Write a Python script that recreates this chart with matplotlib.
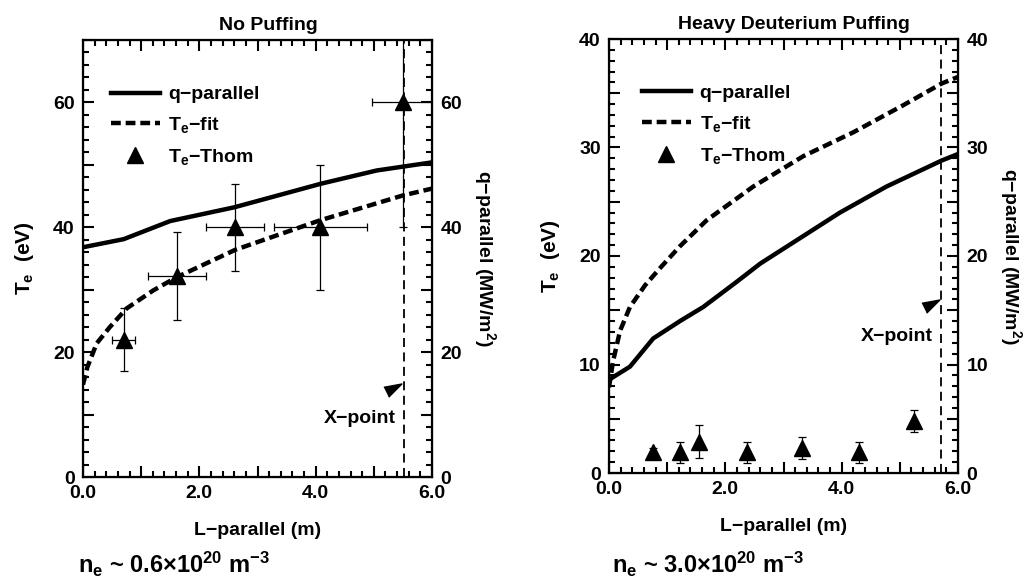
import matplotlib
matplotlib.use('Agg')
import matplotlib.pyplot as plt
from matplotlib.ticker import MultipleLocator, FuncFormatter

plt.rcParams['font.family'] = ['Liberation Sans', 'DejaVu Sans']
plt.rcParams['font.weight'] = 'bold'
plt.rcParams['mathtext.fontset'] = 'custom'
plt.rcParams['mathtext.rm'] = 'Liberation Sans:bold'
plt.rcParams['mathtext.it'] = 'Liberation Sans:bold'
plt.rcParams['mathtext.bf'] = 'Liberation Sans:bold'
plt.rcParams['mathtext.default'] = 'rm'

# --- datos panel izquierdo (sin puffing) ---
q_izq_x = [0.0, 0.7, 1.5, 2.6, 4.1, 5.05, 6.0]
q_izq_y = [36.8, 38.1, 41.0, 43.2, 47.0, 49.1, 50.4]
fit_izq_x = [0.0, 0.075, 0.235, 0.46, 0.75, 1.21, 1.61, 2.62, 4.07, 5.5, 6.0]
fit_izq_y = [14.8, 17.6, 21.4, 24.0, 27.0, 29.9, 32.0, 36.4, 41.1, 45.1, 46.2]
thom_izq_x = [0.7, 1.62, 2.62, 4.08, 5.51]
thom_izq_y = [22.0, 32.2, 40.0, 40.0, 60.0]
thom_izq_yerr = [5.0, 7.0, 7.0, 10.0, 20.0]
thom_izq_xerr = [0.2, 0.5, 0.5, 0.8, 0.55]
xpunto_izq = 5.52

# --- datos panel derecho (puffing fuerte) ---
q_der_x = [0.0, 0.36, 0.76, 1.22, 1.62, 2.19, 2.6, 3.97, 4.77, 5.72, 6.0]
q_der_y = [8.6, 9.8, 12.4, 14.0, 15.3, 17.6, 19.3, 24.0, 26.4, 28.8, 29.4]
fit_der_x = [0.0, 0.07, 0.19, 0.36, 0.62, 0.88, 1.22, 1.68, 2.48, 3.34, 4.2, 5.06, 5.72, 6.0]
fit_der_y = [7.9, 10.3, 13.1, 15.3, 17.3, 18.9, 20.9, 23.3, 26.4, 29.2, 31.4, 33.9, 35.9, 36.5]
thom_der_x = [0.76, 1.22, 1.55, 2.38, 3.32, 4.3, 5.24]
thom_der_y = [1.9, 1.9, 2.9, 1.9, 2.3, 1.9, 4.8]
thom_der_yerr = [0.4, 1.0, 1.5, 1.0, 1.0, 1.0, 1.0]
xpunto_der = 5.71

flecha = [(-7.8, 2.2), (10.6, 5.6), (-2.8, -7.8)]
FS = 14


def formato(cada):
    return FuncFormatter(lambda v, p: '%d' % round(v) if abs(v / cada - round(v / cada)) < 1e-6 else '')


def panel(rect, titulo, ymax, ymayor, ymenor, yetiq, qx, qy, fx, fy, tx, ty, tyerr, txerr,
          xp, flecha_xy, texto_xy, leg_x, ms):
    ax = fig.add_axes(rect)
    ax.plot(qx, qy, color='black', lw=3.2, label='q\u2212parallel')
    ax.plot(fx, fy, color='black', lw=3.2, dashes=(2.2, 1.1), label='T$_e$\u2212fit')
    ax.errorbar(tx, ty, yerr=tyerr, xerr=txerr, fmt='none', ecolor='black',
                elinewidth=0.9, capsize=3, capthick=0.9)
    ax.plot(tx, ty, '^', color='black', ms=ms, label='T$_e$\u2212Thom')
    ax.axvline(xp, color='black', lw=1.3, linestyle=(0, (5, 3)))
    ax.plot([flecha_xy[0]], [flecha_xy[1]], marker=flecha, ms=15, color='black', ls='none')
    ax.text(texto_xy[0], texto_xy[1], 'X\u2212point', ha='right', va='center', fontsize=FS,
            fontweight='bold')

    ax.set_xlim(0, 6)
    ax.set_ylim(0, ymax)
    ax.xaxis.set_major_locator(MultipleLocator(1))
    ax.xaxis.set_minor_locator(MultipleLocator(0.2))
    ax.xaxis.set_major_formatter(FuncFormatter(lambda v, p: '%.1f' % v if round(v) % 2 == 0 else ''))
    ax.yaxis.set_major_locator(MultipleLocator(ymayor))
    ax.yaxis.set_minor_locator(MultipleLocator(ymenor))
    ax.yaxis.set_major_formatter(formato(yetiq))
    ax.tick_params(which='both', direction='in', top=True, right=True, width=1.5,
                   labelsize=FS, pad=6)
    ax.tick_params(which='major', length=8)
    ax.tick_params(which='minor', length=4.5)
    for s in ax.spines.values():
        s.set_linewidth(1.6)

    ax2 = ax.twinx()
    ax2.set_ylim(0, ymax)
    ax2.yaxis.set_major_locator(MultipleLocator(ymayor))
    ax2.yaxis.set_minor_locator(MultipleLocator(ymenor))
    ax2.yaxis.set_major_formatter(formato(yetiq))
    ax2.tick_params(which='both', direction='in', width=1.5, labelsize=FS, pad=6)
    ax2.tick_params(which='major', length=8)
    ax2.tick_params(which='minor', length=4.5)

    ax.set_title(titulo, fontsize=FS, fontweight='bold', x=0.53, pad=7)
    ax.set_xlabel('L\u2212parallel (m)', fontsize=FS, fontweight='bold', labelpad=14)
    ax.set_ylabel('T$_e$  (eV)', fontsize=FS + 1, fontweight='bold', labelpad=12)
    ax2.set_ylabel('q\u2212parallel (MW/m$^2$)', fontsize=FS, fontweight='bold',
                   rotation=270, labelpad=26)

    ax.legend(loc='upper left', bbox_to_anchor=(leg_x, 0.895), frameon=False, fontsize=FS,
              handlelength=2.5, handletextpad=0.45, labelspacing=0.6, borderpad=0,
              borderaxespad=0, numpoints=1)
    return ax


fig = plt.figure(figsize=(10.28, 5.8), dpi=100)

panel([83 / 1028, 103 / 580, 349 / 1028, 437 / 580], 'No Puffing', 70, 10, 2, 20,
      q_izq_x, q_izq_y, fit_izq_x, fit_izq_y, thom_izq_x, thom_izq_y, thom_izq_yerr, thom_izq_xerr,
      xpunto_izq, (5.30, 14.1), (5.38, 9.3), 0.08, 12)

panel([609 / 1028, 107 / 580, 349 / 1028, 434 / 580], 'Heavy Deuterium Puffing', 40, 5, 1, 10,
      q_der_x, q_der_y, fit_der_x, fit_der_y, thom_der_x, thom_der_y, thom_der_yerr, None,
      xpunto_der, (5.51, 15.5), (5.56, 12.6), 0.095, 11)

fig.text(78 / 1028, 1 - 564 / 580, 'n$_e$ ~ 0.6\u00d710$^{20}$ m$^{-3}$', fontsize=17,
         fontweight='bold', va='center')
fig.text(612 / 1028, 1 - 564 / 580, 'n$_e$ ~ 3.0\u00d710$^{20}$ m$^{-3}$', fontsize=17,
         fontweight='bold', va='center')

fig.savefig('out.png', dpi=100)
plt.close(fig)
